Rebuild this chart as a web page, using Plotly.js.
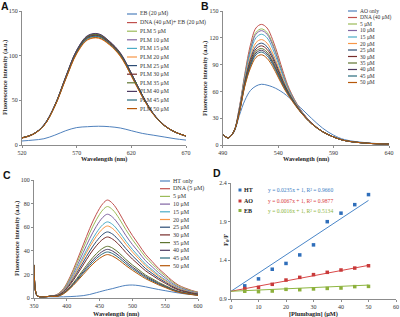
<!DOCTYPE html>
<html><head><meta charset="utf-8">
<script src="https://cdn.plot.ly/plotly-3.0.1.min.js"></script>
<style>html,body{margin:0;padding:0;background:#fff}#chart{width:400px;height:317px}</style>
</head><body><div id="chart"></div>
<script>
const W = 400, H = 317;
const palette = ['#4F81BD','#C0504D','#9BBB59','#8064A2','#4BACC6','#F79646','#2C4D75','#772C2A','#5F7530','#4D3B62','#276A7C','#B65708'];

// ---------- Panel A ----------
const wlA = [520,530,540,550,560,570,580,590,600,610,620,630,640,650,660,670];
const namesA = ['EB (20 μM)','DNA (40 μM)+ EB (20 μM)','PLM 5 μM','PLM 10 μM','PLM 15 μM','PLM 20 μM','PLM 25 μM','PLM 30 μM','PLM 35 μM','PLM 40 μM','PLM 45 μM','PLM 50 μM'];
const A_EB    = [4.5,5.5,7,11,16,19.5,20.5,21,20.5,19,16,13,11,9,7,5.5];
const A_DNA   = [8,12,22,44,75,104,120,122,114,101,79,55,35,22,14.5,10];
const A_PLM5  = [8,12,22,44,76,105,121.5,123.5,115.5,102,80,55.5,35,22,14.5,10];
const A_PLM10 = [8,12,22.5,44.5,76,106,122,124,116,102.5,80,56,35.5,22,14.5,10];
const A_PLM15 = [8,12,22,43.5,74.5,103,119,121,113,100,78.5,54.5,35,22,14.5,10];
const A_PLM20 = [7.5,11.5,21.5,43,73.5,102,117.5,119.5,112,99,77.5,54,34.5,22,14.5,10];
const A_PLM25 = [8,12,22,44,75.5,105,121,123,115,102,79.5,55.5,35,22,14.5,10];
const A_PLM30 = [8,12,22,44,75,104.5,120.5,122.5,114.5,101.5,79,55,35,22,14.5,10];
const A_PLM35 = [8,12,22,44,76,105.5,121.5,123.5,115.5,102,80,55.5,35,22,14.5,10];
const A_PLM40 = [8,12,22.5,44.5,76.5,106,122.5,124.5,116,103,80.5,56,35.5,22.5,14.5,10];
const A_PLM45 = [8,12,22,44,74.5,103.5,119.5,121.5,113.5,100.5,78.5,55,35,22,14.5,10];
const A_PLM50 = [8,12,21.5,43.5,74,102.5,118,120,112.5,99.5,77.5,54,34.5,22,14.5,10];
const seriesA = [A_EB,A_DNA,A_PLM5,A_PLM10,A_PLM15,A_PLM20,A_PLM25,A_PLM30,A_PLM35,A_PLM40,A_PLM45,A_PLM50];

// ---------- Panel B ----------
const wlB = [490,495,500,505,510,515,520,525,530,535,540,545,550,560,570,580,590,600,620,640];
const namesB = ['AO only','DNA (40 μM)','5 μM','10 μM','15 μM','20 μM','25 μM','30 μM','35 μM','40 μM','45 μM','50 μM'];
const B_AO    = [12,8,14,33,50,61,66,68,67,65,62,58,53,42,30,19,11,6,2.5,1];
const B_DNA   = [12,8,15,42,80,112,131,135,131,118,100,80,63,40,25,15,9,5,2,1];
const B_5     = [12,8,15,41,78,108,126,130,126,114,96.5,77.5,61.5,39.5,25,15,9,5,2,1];
const B_10    = [12,8,15,41,77,106.5,124,128,124,112,95,76.5,61,39.5,25,15,9,5,2,1];
const B_15    = [12,8,15,40,75.5,103.5,120,124,120,108,92,75,60,39,24.5,15,9,5,2,1];
const B_20    = [12,8,15,39,73,99,114.5,118,114,103,88,72,58.5,38.5,24.5,15,9,5,2,1];
const B_25    = [12,8,15,38,71,96,110.5,114,110,99.5,85,70,57.5,38,24.5,15,9,5,2,1];
const B_30    = [12,8,15,38,70,93.5,107.5,111,107,97,83,68.5,56.5,38,24.5,15,9,5,2,1];
const B_35    = [12,8,15,37,69,91.5,105,108,104,94,81,67.5,56,37.5,24,15,9,5,2,1];
const B_40    = [12,8,15,37,68,90,103,106,102,92.5,79.5,66.5,55.5,37.5,24,15,9,5,2,1];
const B_45    = [12,8,15,36.5,67,88,101,104,100,90.5,78,65.5,55,37.5,24,15,9,5,2,1];
const B_50    = [12,8,15,36,66,86,98,101,97,88,76,64,54,37,24,15,9,5,2,1];
const seriesB = [B_AO,B_DNA,B_5,B_10,B_15,B_20,B_25,B_30,B_35,B_40,B_45,B_50];

// ---------- Panel C ----------
const wlC = [350,353,356,365,375,385,395,405,415,425,435,445,455,462,470,480,490,500,510,520,530,540,550,560,570,580,590,600];
const namesC = ['HT only','DNA (5 μM)','5 μM','10 μM','15 μM','20 μM','25 μM','30 μM','35 μM','40 μM','45 μM','50 μM'];
const C_HT  = [28,4,1.5,1,1,1,1,1.2,1.5,2,3,4.5,6,7,8,9.5,10.7,11,10.5,9.5,8.3,7.2,6.2,5.2,4.3,3.5,3,2.6];
const C_DNA = [28,4,1.5,1,1.5,3,8,18,31,45,59,71,80,83,80,72,62,53,45,37,31,25,20,15,11,8.5,6.5,5];
const C_5   = [28,4,1.5,1,1.5,2.8,7.5,16.8,29,42,55.1,66.3,74.7,77.5,74.7,67.2,57.9,49.5,42,34.6,29,23.4,18.7,14,10.3,7.9,6.1,4.7];
const C_10  = [28,4,1.5,1,1.5,2.6,6.8,15.4,26.5,38.5,50.4,60.7,68.4,71,68.4,61.6,53,45.3,38.5,31.6,26.5,21.4,17.1,12.8,9.4,7.3,5.6,4.3];
const C_15  = [28,4,1.5,1,1.5,2.3,6.2,14,24.1,35,45.8,55.2,62.2,64.5,62.2,55.9,48.2,41.2,35,28.7,24.1,19.4,15.5,11.7,8.5,6.6,5.1,3.9];
const C_20  = [28,4,1.5,1,1.5,2.2,5.9,13.2,22.8,33.1,43.4,52.2,58.8,61,58.8,52.9,45.6,39,33.1,27.2,22.8,18.4,14.7,11,8.1,6.2,4.8,3.7];
const C_25  = [28,4,1.5,1,1.5,2,5.4,12.2,20.9,30.4,39.8,47.9,54,56,54,48.6,41.9,35.8,30.4,25,20.9,16.9,13.5,10.1,7.4,5.7,4.4,3.4];
const C_30  = [28,4,1.5,1,1.5,1.9,5,11.2,19.3,28,36.8,44.2,49.8,51.7,49.8,44.9,38.6,33,28,23.1,19.3,15.6,12.5,9.3,6.9,5.3,4,3.1];
const C_35  = [28,4,1.5,1,1.5,1.6,4.2,9.5,16.4,23.8,31.2,37.5,42.2,43.8,42.2,38,32.7,28,23.8,19.5,16.4,13.2,10.6,7.9,5.8,4.5,3.4,2.6];
const C_40  = [28,4,1.5,1,1.5,1.5,4,8.9,15.4,22.3,29.3,35.2,39.7,41.2,39.7,35.7,30.8,26.3,22.3,18.4,15.4,12.4,9.9,7.4,5.5,4.2,3.2,2.5];
const C_45  = [28,4,1.5,1,1.5,1.4,3.8,8.5,14.6,21.2,27.7,33.4,37.6,39,37.6,33.8,29.1,24.9,21.2,17.4,14.6,11.8,9.4,7.1,5.2,4,3.1,2.4];
const C_50  = [28,4,1.5,1,1.5,1.3,3.5,8,13.7,19.9,26.1,31.5,35.4,36.8,35.4,31.9,27.5,23.5,19.9,16.4,13.7,11.1,8.9,6.6,4.9,3.8,2.9,2.2];
const seriesC = [C_HT,C_DNA,C_5,C_10,C_15,C_20,C_25,C_30,C_35,C_40,C_45,C_50];

// ---------- Panel D ----------
const concD = [5,10,15,20,25,30,35,40,45,50];
const D_HT = [1.07,1.16,1.285,1.36,1.47,1.60,1.90,2.01,2.12,2.25];
const D_AO = [1.035,1.05,1.09,1.145,1.18,1.215,1.245,1.275,1.30,1.33];
const D_EB = [1.0,0.995,1.003,1.025,1.02,1.03,1.037,1.042,1.06,1.063];
const namesD = ['HT','AO','EB'];
const slopesD = [0.0235,0.0067,0.0016];
const r2D = ['0.9660','0.9877','0.5134'];
const fitRangeD = [0,50];
const markerColD = ['#2F6EBA','#C83A3A','#8DB03C'];
const lineColD = ['#4A86C8','#D94848','#8DB640'];
const eqColD = ['#3B7DC4','#D9413F','#8DB640'];

const traces = [];
function addSpectra(xs, series, xa, ya){
  series.forEach((s,i)=>traces.push({x:xs,y:s,type:'scatter',mode:'lines',xaxis:xa,yaxis:ya,
    line:{color:palette[i],width:1,shape:'spline',smoothing:1},showlegend:false,hoverinfo:'skip'}));
}
addSpectra(wlA, seriesA, 'x', 'y');
addSpectra(wlB, seriesB, 'x2', 'y2');
addSpectra(wlC, seriesC, 'x3', 'y3');
[D_HT,D_AO,D_EB].forEach((s,i)=>{
  traces.push({x:fitRangeD,y:fitRangeD.map(c=>1+slopesD[i]*c),type:'scatter',mode:'lines',xaxis:'x4',yaxis:'y4',
    line:{color:lineColD[i],width:1},showlegend:false,hoverinfo:'skip'});
});
[D_HT,D_AO,D_EB].forEach((s,i)=>{
  traces.push({x:concD,y:s,type:'scatter',mode:'markers',xaxis:'x4',yaxis:'y4',
    marker:{color:markerColD[i],size:3.5,symbol:'square'},showlegend:false,hoverinfo:'skip'});
});

const FONT = 'Liberation Serif';
function ax(domain, range, tickvals, anchor){
  return {domain:domain, range:range, tickvals:tickvals, anchor:anchor, showgrid:false, zeroline:false,
    showline:true, linecolor:'#8c8c8c', linewidth:1, ticks:'outside', ticklen:2, tickcolor:'#8c8c8c', tickwidth:1,
    tickfont:{family:FONT,size:6,color:'#333'}, fixedrange:true};
}
const px = v=>v/W, py = v=>1-v/H;

const layout = {
  width:W, height:H, margin:{l:0,r:0,t:0,b:0}, paper_bgcolor:'#fff', plot_bgcolor:'#fff', showlegend:false,
  xaxis: ax([px(22),px(186)],[520,670],[520,570,620,670],'y'),
  yaxis: ax([py(145),py(11)],[0,150],[0,50,100,150],'x'),
  xaxis2: ax([px(222.7),px(389)],[490,640],[490,540,590,640],'y2'),
  yaxis2: ax([py(145),py(11)],[0,150],[0,30,60,90,120,150],'x2'),
  xaxis3: ax([px(34),px(198)],[350,600],[350,400,450,500,550,600],'y3'),
  yaxis3: ax([py(298),py(180)],[0,100],[0,20,40,60,80,100],'x3'),
  xaxis4: ax([px(231),px(396)],[0,60],[0,10,20,30,40,50,60],'y4'),
  yaxis4: ax([py(299),py(183)],[0.9,2.4],[0.9,1.4,1.9,2.4],'x4'),
  annotations: [], shapes: []
};
layout.yaxis4.tickformat = '.1f';

function ann(x,y,text,o){
  return Object.assign({xref:'paper',yref:'paper',x:px(x),y:py(y),text:text,showarrow:false,
    xanchor:'left',yanchor:'middle',borderpad:0,font:{family:FONT,size:6,color:'#333'}},o||{});
}
const A = layout.annotations, S = layout.shapes;
// panel letters
[['A',0,5.5],['B',200,5.5],['C',2,175],['D',212,173]].forEach(l=>A.push(ann(l[1],l[2],'<b>'+l[0]+'</b>',{font:{family:'Liberation Sans',size:10.5,color:'#111'}})));
// axis titles
const bold = {family:FONT,size:6.3,color:'#222'};
A.push(ann(5,78,'<b>Fluorescence intensity (a.u.)</b>',{xanchor:'center',textangle:-90,font:bold}));
A.push(ann(205,78,'<b>Fluorescence intensity (a.u.)</b>',{xanchor:'center',textangle:-90,font:bold}));
A.push(ann(17,239,'<b>Fluorescence intensity (a.u.)</b>',{xanchor:'center',textangle:-90,font:bold}));
A.push(ann(104,158.5,'<b>Wavelength (nm)</b>',{xanchor:'center',font:bold}));
A.push(ann(306,158.5,'<b>Wavelength (nm)</b>',{xanchor:'center',font:bold}));
A.push(ann(116,313.5,'<b>Wavelength (nm)</b>',{xanchor:'center',font:bold}));
A.push(ann(313,313.5,'<b>[Plumbagin] (μM)</b>',{xanchor:'center',font:bold}));
A.push(ann(226,240,'<b>F<sub>0</sub>/F</b>',{xanchor:'center',textangle:-90,font:{family:FONT,size:6.5,color:'#222'}}));

// manual legends for spectra
function legend(names, x0, x1, tx, y0, dy, fs){
  names.forEach((n,i)=>{
    const y = y0+dy*i;
    S.push({type:'line',xref:'paper',yref:'paper',x0:px(x0),x1:px(x1),y0:py(y),y1:py(y),line:{color:palette[i],width:1.2}});
    A.push(ann(tx,y,n,{font:{family:FONT,size:fs,color:'#333'}}));
  });
}
legend(namesA,127,137,138.5,14,8.6,5.8);
legend(namesB,348,357,359,11,6.5,5.5);
legend(namesC,160,170,172,181,7.7,6);

// D legend + equations
const dLegY = [190,201,210.5];
namesD.forEach((n,i)=>{
  S.push({type:'rect',xref:'paper',yref:'paper',x0:px(238.5),x1:px(241.5),y0:py(dLegY[i]-1.5),y1:py(dLegY[i]+1.5),fillcolor:markerColD[i],line:{width:0}});
  A.push(ann(243,dLegY[i],'<b>'+n+'</b>',{font:{family:FONT,size:6,color:'#222'}}));
  A.push(ann(267,dLegY[i],'y = '+slopesD[i].toFixed(4)+'x + 1, R² = '+r2D[i],{font:{family:FONT,size:5.6,color:eqColD[i]}}));
});

Plotly.newPlot('chart', traces, layout, {staticPlot:true, displayModeBar:false});
</script>
</body></html>
